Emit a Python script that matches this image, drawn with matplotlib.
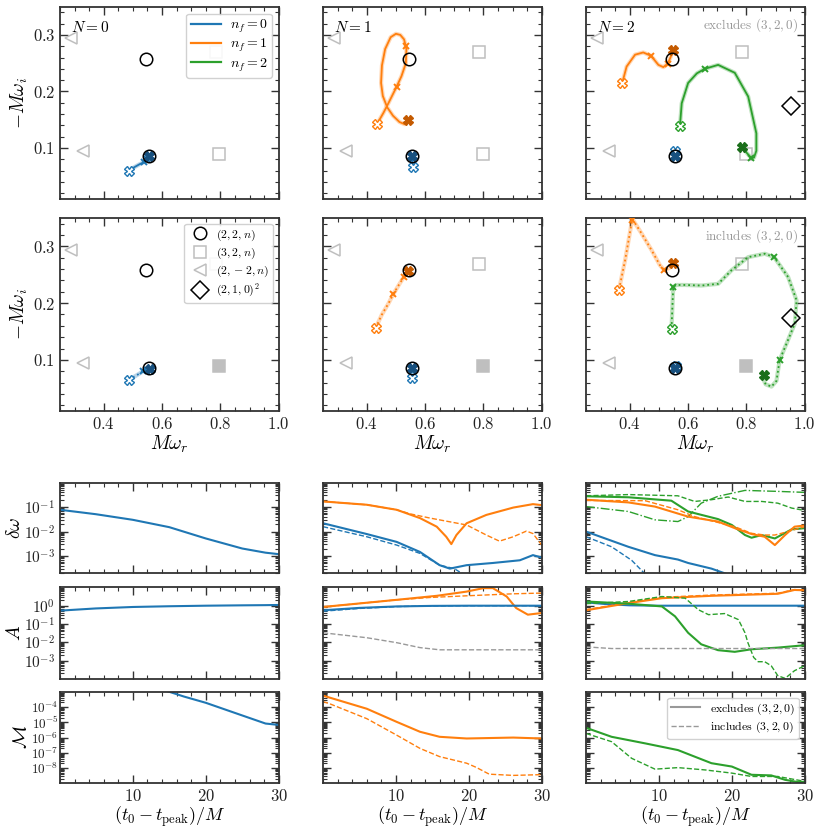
import matplotlib
matplotlib.use("Agg")
import matplotlib.pyplot as plt
from matplotlib.lines import Line2D
from matplotlib.ticker import MultipleLocator, LogLocator, NullFormatter
import numpy as np

plt.rcParams.update({
    "font.family": "serif",
    "font.serif": ["cmr10", "DejaVu Serif"],
    "mathtext.fontset": "cm",
    "axes.formatter.use_mathtext": True,
    "axes.unicode_minus": False,
})

C0, C1, C2 = "#1f77b4", "#ff7f0e", "#2ca02c"
DARK = {C0: "#17507f", C1: "#c45a00", C2: "#1b6e1b"}
SPINE = "#333333"

# ---- reference QNM frequencies (M omega_r, -M omega_i)
q22_x, q22_y = [0.556, 0.544], [0.085, 0.258]
q32_x, q32_y = [0.797, 0.785], [0.089, 0.269]
q2m2_x, q2m2_y = [0.288, 0.328], [0.294, 0.094]
q210sq_x, q210sq_y = [0.952], [0.174]

# ---- fitted-frequency trajectories (top row: excludes (3,2,0))
ex0_n0_x = [0.486, 0.505, 0.522, 0.538, 0.548, 0.556]
ex0_n0_y = [0.060, 0.066, 0.071, 0.075, 0.080, 0.085]
ex0_n0_tx, ex0_n0_ty = [0.538, 0.550], [0.075, 0.081]

ex1_n0_x = [0.557, 0.556, 0.555]
ex1_n0_y = [0.066, 0.075, 0.085]
ex1_n1_x = [0.436, 0.457, 0.474, 0.502, 0.519, 0.534, 0.536, 0.528, 0.515, 0.500,
            0.482, 0.463, 0.452, 0.449, 0.455, 0.470, 0.490, 0.512, 0.530, 0.543]
ex1_n1_y = [0.143, 0.162, 0.179, 0.208, 0.227, 0.250, 0.275, 0.292, 0.300, 0.302,
            0.296, 0.275, 0.246, 0.215, 0.192, 0.172, 0.157, 0.146, 0.142, 0.150]
ex1_n1_tx, ex1_n1_ty = [0.502, 0.534], [0.208, 0.280]

ex2_n0_x = [0.555, 0.555]
ex2_n0_y = [0.095, 0.085]
ex2_n1_x = [0.374, 0.389, 0.418, 0.446, 0.473, 0.498, 0.515, 0.530, 0.541, 0.547]
ex2_n1_y = [0.215, 0.244, 0.265, 0.269, 0.263, 0.247, 0.243, 0.249, 0.262, 0.274]
ex2_n1_tx, ex2_n1_ty = [0.473, 0.530], [0.263, 0.249]
ex2_n2_x = [0.572, 0.578, 0.600, 0.630, 0.657, 0.703, 0.760, 0.806, 0.834, 0.834,
            0.826, 0.817, 0.800, 0.786]
ex2_n2_y = [0.139, 0.179, 0.215, 0.232, 0.240, 0.247, 0.233, 0.191, 0.126, 0.095,
            0.083, 0.082, 0.092, 0.102]
ex2_n2_tx, ex2_n2_ty = [0.657, 0.817], [0.240, 0.082]

# ---- middle row: includes (3,2,0)
in0_n0_x = [0.486, 0.510, 0.535, 0.558]
in0_n0_y = [0.065, 0.072, 0.080, 0.084]
in0_n0_tx, in0_n0_ty = [0.535, 0.550], [0.080, 0.083]

in1_n0_x = [0.556, 0.556, 0.556]
in1_n0_y = [0.068, 0.077, 0.085]
in1_n1_x = [0.430, 0.452, 0.475, 0.491, 0.510, 0.527, 0.542]
in1_n1_y = [0.156, 0.180, 0.200, 0.216, 0.232, 0.246, 0.257]
in1_n1_tx, in1_n1_ty = [0.491, 0.527], [0.216, 0.246]

in2_n0_x = [0.557, 0.555]
in2_n0_y = [0.090, 0.085]
in2_n1_x = [0.363, 0.384, 0.404, 0.409, 0.440, 0.475, 0.503, 0.518, 0.535, 0.547]
in2_n1_y = [0.224, 0.276, 0.335, 0.348, 0.323, 0.293, 0.267, 0.258, 0.262, 0.270]
in2_n1_tx, in2_n1_ty = [0.409, 0.518], [0.346, 0.258]
in2_n2_x = [0.543, 0.547, 0.549, 0.560, 0.589, 0.646, 0.703, 0.749, 0.806, 0.863,
            0.895, 0.943, 0.972, 0.966, 0.937, 0.914, 0.903, 0.886, 0.866, 0.858, 0.861]
in2_n2_y = [0.155, 0.205, 0.229, 0.232, 0.232, 0.231, 0.234, 0.258, 0.281, 0.287,
            0.281, 0.246, 0.205, 0.164, 0.128, 0.100, 0.063, 0.053, 0.057, 0.066, 0.074]
in2_n2_tx, in2_n2_ty = [0.549, 0.895, 0.914], [0.229, 0.281, 0.100]

# ---- bottom panels: t0 - t_peak and log10 of quantities
# column N=0
t_c1 = [0.0, 4.9, 10.0, 15.0, 20.0, 25.0, 28.2, 30.0]
dw_c1_n0 = [-1.11, -1.29, -1.52, -1.82, -2.28, -2.69, -2.86, -2.92]
A_c1_n0 = [-0.27, -0.15, -0.07, -0.03, 0.0, 0.02, 0.03, 0.04]
tM_c1 = [12.0, 15.0, 17.0, 20.0, 25.0, 28.2, 30.0]
M_c1_n0 = [-2.6, -3.0, -3.31, -3.72, -4.55, -5.08, -5.17]

# column N=1
t_c2_dw1 = [0.0, 6.0, 10.1, 13.3, 15.6, 16.9, 17.6, 18.3, 19.7, 22.4, 26.1, 28.8, 30.0]
dw_c2_n1_ex = [-0.77, -0.905, -1.11, -1.45, -1.80, -2.21, -2.51, -2.14, -1.66, -1.32, -1.02, -0.88, -0.92]
t_c2_dw1i = [0.0, 6.0, 10.1, 12.0, 14.7, 19.7, 22.4, 24.2, 26.1, 27.9, 28.8, 30.0]
dw_c2_n1_in = [-0.77, -0.905, -1.11, -1.28, -1.45, -1.73, -2.14, -2.39, -2.21, -1.98, -2.08, -2.55]
t_c2_dw0 = [0.0, 6.0, 10.1, 13.3, 16.0, 17.4, 19.7, 23.3, 27.0, 28.8, 30.0]
dw_c2_n0_ex = [-1.66, -2.10, -2.42, -2.83, -3.37, -3.51, -3.37, -3.28, -3.17, -2.96, -3.06]
t_c2_dw0i = [0.0, 6.0, 10.1, 13.3, 16.0, 18.0, 19.2, 22.0]
dw_c2_n0_in = [-1.80, -2.21, -2.55, -2.89, -3.37, -3.51, -3.73, -4.1]

t_c2_A1 = [0.0, 10.1, 15.6, 19.7, 22.0, 23.3, 25.2, 26.5, 28.1, 30.0]
A_c2_n1_ex = [-0.07, 0.32, 0.54, 0.77, 0.96, 0.96, 0.50, -0.13, -0.49, -0.40]
t_c2_A1i = [0.0, 10.1, 14.7, 19.7, 26.1, 30.0]
A_c2_n1_in = [-0.07, 0.32, 0.45, 0.54, 0.65, 0.69]
t_c2_A0 = [0.0, 5.0, 10.1, 15.0, 20.0, 25.0, 30.0]
A_c2_n0_ex = [-0.25, -0.12, -0.04, -0.01, 0.0, 0.0, 0.0]
A_c2_n0_in = [-0.30, -0.15, -0.05, -0.01, 0.0, 0.0, 0.0]
t_c2_A32 = [0.0, 6.0, 10.1, 13.3, 16.0, 20.0, 25.0, 30.0]
A_c2_320 = [-1.48, -1.75, -2.02, -2.29, -2.41, -2.41, -2.41, -2.41]

t_c2_M = [0.0, 6.0, 10.1, 13.3, 16.0, 19.7, 26.1, 30.0]
M_c2_n1_ex = [-3.25, -4.11, -4.97, -5.62, -5.95, -6.06, -6.0, -6.06]
t_c2_Mi = [0.0, 1.0, 6.0, 10.1, 13.3, 16.0, 19.7, 21.0, 22.8, 26.1, 30.0]
M_c2_n1_in = [-3.64, -3.80, -4.76, -5.84, -6.71, -7.25, -7.68, -7.95, -8.40, -8.48, -8.43]

# column N=2
t_c3_dw2 = [0.0, 5.8, 11.7, 14.0, 18.1, 20.0, 21.8, 22.7, 24.1, 25.9, 28.2, 30.0]
dw_c3_n2_ex = [-0.56, -0.60, -0.74, -1.18, -1.49, -1.73, -2.14, -2.25, -2.14, -2.28, -1.91, -1.86]
t_c3_dw1 = [0.0, 5.8, 9.45, 14.0, 18.1, 20.4, 22.7, 24.5, 25.9, 27.3, 28.6, 30.0]
dw_c3_n1_ex = [-0.70, -0.81, -0.98, -1.39, -1.59, -1.86, -2.10, -2.21, -2.55, -2.14, -1.80, -1.75]
t_c3_dw1i = [0.0, 8.1, 12.6, 14.9, 20.4, 22.7, 24.5, 25.9, 27.3, 30.0]
dw_c3_n1_in = [-0.73, -0.74, -1.11, -1.39, -1.80, -2.07, -2.14, -2.14, -2.03, -1.80]
t_c3_dw2i = [0.0, 5.8, 12.6, 14.9, 17.2, 19.5, 21.8, 24.1, 26.3, 28.2, 30.0]
dw_c3_n2_in = [-0.54, -0.49, -0.54, -0.77, -0.70, -0.59, -0.77, -0.77, -0.84, -1.04, -1.14]
t_c3_dw2d = [0.0, 5.8, 9.45, 12.6, 14.0, 15.8, 18.1, 21.8, 26.3, 30.0]
dw_c3_n2_dd = [-0.98, -1.18, -1.52, -1.59, -1.39, -0.84, -0.56, -0.32, -0.36, -0.40]
t_c3_dw0 = [0.0, 5.8, 9.45, 12.6, 14.0, 17.2, 19.3]
dw_c3_n0_ex = [-2.0, -2.62, -2.96, -3.14, -3.28, -3.51, -3.73]
t_c3_dw0i = [0.0, 3.5, 6.25, 8.1, 10.0]
dw_c3_n0_in = [-2.21, -2.62, -3.17, -3.73, -4.2]

t_c3_A = [0.0, 5.8, 10.4, 17.2, 26.3, 28.6, 30.0]
A_c3_n1_ex = [-0.25, 0.14, 0.41, 0.54, 0.65, 0.86, 0.84]
A_c3_n1_in = [-0.22, 0.18, 0.46, 0.58, 0.68, 0.88, 0.86]
t_c3_A0 = [0.0, 3.0, 6.0, 10.0, 20.0, 30.0]
A_c3_n0_ex = [0.18, 0.08, 0.02, 0.0, 0.0, 0.0]
t_c3_A2 = [0.0, 5.8, 10.4, 12.2, 14.0, 15.8, 18.1, 20.4, 22.7, 26.3, 30.0]
A_c3_n2_ex = [0.23, 0.11, -0.04, -0.58, -1.48, -2.11, -2.43, -2.52, -2.38, -2.29, -2.16]
t_c3_A2i = [0.0, 5.8, 10.4, 13.6, 15.4, 16.8, 19.0, 20.9, 21.8, 22.2, 23.0, 23.6,
            24.5, 25.4, 26.3, 27.3, 28.6, 30.0]
A_c3_n2_in = [0.11, 0.23, 0.50, 0.41, -0.22, -0.49, -0.43, -0.76, -1.48, -2.02, -2.83, -3.06,
              -3.06, -3.28, -3.82, -3.97, -3.55, -3.28]
t_c3_A32 = [0.0, 3.5, 10.0, 20.0, 30.0]
A_c3_320 = [-2.25, -2.34, -2.34, -2.34, -2.34]

t_c3_M = [0.0, 3.5, 8.1, 12.6, 14.9, 17.2, 20.0, 22.7, 25.4, 27.3, 29.1, 30.0]
M_c3_n2_ex = [-5.36, -5.95, -6.38, -6.82, -7.25, -7.68, -7.90, -8.44, -8.48, -8.77, -8.92, -8.90]
t_c3_Mi = [0.0, 3.5, 6.25, 9.45, 12.6, 16.3, 20.0, 22.7, 26.3, 30.0]
M_c3_n2_in = [-5.73, -6.27, -7.36, -8.07, -7.97, -8.12, -8.33, -8.55, -8.55, -8.87]


def p10(v):
    return 10.0 ** np.asarray(v)


def style_axes(ax, labelsize=12):
    for s in ax.spines.values():
        s.set_color(SPINE)
        s.set_linewidth(1.3)
    ax.tick_params(which="both", direction="in", top=True, right=True, colors=SPINE,
                   labelcolor="#222222", labelsize=labelsize)
    ax.tick_params(which="major", length=6, width=1.0)
    ax.tick_params(which="minor", length=3, width=0.8)


def trajectory(ax, x, y, color, ls, tx=None, ty=None):
    ax.plot(x, y, color=color, lw=3.0, alpha=0.3, solid_capstyle="round", zorder=3)
    ax.plot(x, y, color=color, lw=1.3, ls=ls, zorder=4)
    if tx is not None:
        ax.plot(tx, ty, ls="none", marker="x", ms=5, mew=1.4, color=color, zorder=5)
    ax.plot(x[0], y[0], ls="none", marker="X", ms=6.5, mfc="white", mec=color, mew=1.0, zorder=6)
    ax.plot(x[-1], y[-1], ls="none", marker="X", ms=6.5, mfc=DARK[color], mec=DARK[color], zorder=6)


def references(ax, filled32, show210):
    ax.plot(q2m2_x, q2m2_y, ls="none", marker="<", ms=9, mfc="none", mec="0.75", mew=1.1, zorder=2)
    ax.plot(q32_x[1], q32_y[1], ls="none", marker="s", ms=9, mfc="none", mec="0.75", mew=1.1, zorder=2)
    ax.plot(q32_x[0], q32_y[0], ls="none", marker="s", ms=9,
            mfc="0.75" if filled32 else "none", mec="0.75", mew=1.1, zorder=2)
    ax.plot(q22_x, q22_y, ls="none", marker="o", ms=9, mfc="none", mec="black", mew=1.1, zorder=7)
    if show210:
        ax.plot(q210sq_x, q210sq_y, ls="none", marker="D", ms=9, mfc="none", mec="black", mew=1.1, zorder=7)


fig = plt.figure(figsize=(8.22, 8.32), dpi=100)
lefts = [0.073, 0.393, 0.713]
w = 0.266
scat_rows = [(0.761, 0.231), (0.506, 0.232)]
line_rows = [(0.311, 0.109), (0.184, 0.110), (0.0585, 0.110)]

sc = [[fig.add_axes([l, b, w, h]) for l in lefts] for (b, h) in scat_rows]
ln = [[fig.add_axes([l, b, w, h]) for l in lefts] for (b, h) in line_rows]

# --- scatter panels
for r in range(2):
    for c in range(3):
        ax = sc[r][c]
        style_axes(ax)
        ax.set_xlim(0.25, 1.0)
        ax.set_ylim(0.01, 0.35)
        ax.xaxis.set_major_locator(MultipleLocator(0.2))
        ax.xaxis.set_minor_locator(MultipleLocator(0.05))
        ax.yaxis.set_major_locator(MultipleLocator(0.1))
        ax.yaxis.set_minor_locator(MultipleLocator(0.02))
        references(ax, filled32=(r == 1), show210=(c == 2))
        if r == 0:
            ax.tick_params(labelbottom=False)
        else:
            ax.set_xlabel(r"$M\omega_r$", fontsize=14, labelpad=1)
        if c == 0:
            ax.set_ylabel(r"$-M\omega_i$", fontsize=14, labelpad=2)
        else:
            ax.tick_params(labelleft=False)
        if r == 0:
            ax.text(0.05, 0.93, rf"$N={c}$", transform=ax.transAxes, fontsize=11,
                    va="top", ha="left")

trajectory(sc[0][0], ex0_n0_x, ex0_n0_y, C0, "-", ex0_n0_tx, ex0_n0_ty)
trajectory(sc[0][1], ex1_n0_x, ex1_n0_y, C0, "-")
trajectory(sc[0][1], ex1_n1_x, ex1_n1_y, C1, "-", ex1_n1_tx, ex1_n1_ty)
trajectory(sc[0][2], ex2_n0_x, ex2_n0_y, C0, "-")
trajectory(sc[0][2], ex2_n1_x, ex2_n1_y, C1, "-", ex2_n1_tx, ex2_n1_ty)
trajectory(sc[0][2], ex2_n2_x, ex2_n2_y, C2, "-", ex2_n2_tx, ex2_n2_ty)

trajectory(sc[1][0], in0_n0_x, in0_n0_y, C0, ":", in0_n0_tx, in0_n0_ty)
trajectory(sc[1][1], in1_n0_x, in1_n0_y, C0, ":")
trajectory(sc[1][1], in1_n1_x, in1_n1_y, C1, ":", in1_n1_tx, in1_n1_ty)
trajectory(sc[1][2], in2_n0_x, in2_n0_y, C0, ":")
trajectory(sc[1][2], in2_n1_x, in2_n1_y, C1, ":", in2_n1_tx, in2_n1_ty)
trajectory(sc[1][2], in2_n2_x, in2_n2_y, C2, ":", in2_n2_tx, in2_n2_ty)

sc[0][2].text(0.97, 0.95, r"excludes $(3,2,0)$", transform=sc[0][2].transAxes,
              fontsize=9.5, color="0.6", ha="right", va="top")
sc[1][2].text(0.97, 0.95, r"includes $(3,2,0)$", transform=sc[1][2].transAxes,
              fontsize=9.5, color="0.6", ha="right", va="top")

nf_handles = [Line2D([], [], color=col, lw=1.6) for col in (C0, C1, C2)]
sc[0][0].legend(nf_handles, [r"$n_f=0$", r"$n_f=1$", r"$n_f=2$"], loc="upper right",
                fontsize=10, handlelength=2.2, borderpad=0.3, labelspacing=0.15,
                handletextpad=0.6, framealpha=0.9, edgecolor="0.8")
ref_handles = [
    Line2D([], [], ls="none", marker="o", ms=9, mfc="none", mec="black", mew=1.1),
    Line2D([], [], ls="none", marker="s", ms=9, mfc="none", mec="0.75", mew=1.1),
    Line2D([], [], ls="none", marker="<", ms=9, mfc="none", mec="0.75", mew=1.1),
    Line2D([], [], ls="none", marker="D", ms=9, mfc="none", mec="black", mew=1.1),
]
sc[1][0].legend(ref_handles, [r"$(2,2,n)$", r"$(3,2,n)$", r"$(2,-2,n)$", r"$(2,1,0)^2$"],
                loc="upper right", fontsize=8.5, borderpad=0.3, labelspacing=0.25,
                handletextpad=0.4, framealpha=0.9, edgecolor="0.8")

# --- time-series panels
ylims = [(2e-4, 1.0), (1e-4, 10.0), (1e-9, 1e-3)]
yticks = [[1e-3, 1e-2, 1e-1], [1e-3, 1e-2, 1e-1, 1.0], [1e-8, 1e-7, 1e-6, 1e-5, 1e-4]]
ylabels = [r"$\delta\omega$", r"$A$", r"$\mathcal{M}$"]
for r in range(3):
    for c in range(3):
        ax = ln[r][c]
        style_axes(ax, labelsize=11)
        ax.set_yscale("log")
        ax.set_xlim(0, 30)
        ax.set_ylim(*ylims[r])
        ax.set_yticks(yticks[r])
        ax.yaxis.set_minor_locator(LogLocator(base=10, subs=np.arange(2, 10), numticks=50))
        ax.yaxis.set_minor_formatter(NullFormatter())
        ax.set_xticks([10, 20, 30])
        ax.xaxis.set_minor_locator(MultipleLocator(2))
        ax.tick_params(axis="x", labelsize=12)
        if r < 2:
            ax.tick_params(labelbottom=False)
        else:
            ax.set_xlabel(r"$(t_0-t_{\rm peak})/M$", fontsize=13, labelpad=0)
        if c == 0:
            ax.set_ylabel(ylabels[r], fontsize=14, labelpad=0)
        else:
            ax.tick_params(labelleft=False)
ln[2][0].tick_params(axis="y", pad=1, labelsize=9.5)

lw = 1.5
# N = 0
ln[0][0].plot(t_c1, p10(dw_c1_n0), color=C0, lw=lw)
ln[1][0].plot(t_c1, p10(A_c1_n0), color=C0, lw=lw)
ln[2][0].plot(tM_c1, p10(M_c1_n0), color=C0, lw=lw)

# N = 1
ax = ln[0][1]
ax.plot(t_c2_dw1, p10(dw_c2_n1_ex), color=C1, lw=lw)
ax.plot(t_c2_dw1i, p10(dw_c2_n1_in), color=C1, lw=1.0, ls="--")
ax.plot(t_c2_dw0, p10(dw_c2_n0_ex), color=C0, lw=lw)
ax.plot(t_c2_dw0i, p10(dw_c2_n0_in), color=C0, lw=1.0, ls="--")
ax = ln[1][1]
ax.plot(t_c2_A1, p10(A_c2_n1_ex), color=C1, lw=lw)
ax.plot(t_c2_A1i, p10(A_c2_n1_in), color=C1, lw=1.0, ls="--")
ax.plot(t_c2_A0, p10(A_c2_n0_ex), color=C0, lw=lw)
ax.plot(t_c2_A0, p10(A_c2_n0_in), color=C0, lw=1.0, ls="--")
ax.plot(t_c2_A32, p10(A_c2_320), color="0.6", lw=1.0, ls="--")
ax = ln[2][1]
ax.plot(t_c2_M, p10(M_c2_n1_ex), color=C1, lw=lw)
ax.plot(t_c2_Mi, p10(M_c2_n1_in), color=C1, lw=1.0, ls="--")

# N = 2
ax = ln[0][2]
ax.plot(t_c3_dw2, p10(dw_c3_n2_ex), color=C2, lw=lw)
ax.plot(t_c3_dw2i, p10(dw_c3_n2_in), color=C2, lw=1.0, ls="--")
ax.plot(t_c3_dw2d, p10(dw_c3_n2_dd), color=C2, lw=1.0, ls="-.")
ax.plot(t_c3_dw1, p10(dw_c3_n1_ex), color=C1, lw=lw)
ax.plot(t_c3_dw1i, p10(dw_c3_n1_in), color=C1, lw=1.0, ls="--")
ax.plot(t_c3_dw0, p10(dw_c3_n0_ex), color=C0, lw=lw)
ax.plot(t_c3_dw0i, p10(dw_c3_n0_in), color=C0, lw=1.0, ls="--")
ax = ln[1][2]
ax.plot(t_c3_A0, p10(A_c3_n0_ex), color=C0, lw=lw)
ax.plot(t_c3_A, p10(A_c3_n1_ex), color=C1, lw=lw)
ax.plot(t_c3_A, p10(A_c3_n1_in), color=C1, lw=1.0, ls="--")
ax.plot(t_c3_A2, p10(A_c3_n2_ex), color=C2, lw=lw)
ax.plot(t_c3_A2i, p10(A_c3_n2_in), color=C2, lw=1.0, ls="--")
ax.plot(t_c3_A32, p10(A_c3_320), color="0.6", lw=1.0, ls="--")
ax = ln[2][2]
ax.plot(t_c3_M, p10(M_c3_n2_ex), color=C2, lw=lw)
ax.plot(t_c3_Mi, p10(M_c3_n2_in), color=C2, lw=1.0, ls="--")
ex_handles = [Line2D([], [], color="0.6", lw=1.5), Line2D([], [], color="0.6", lw=1.0, ls="--")]
ax.legend(ex_handles, [r"excludes $(3,2,0)$", r"includes $(3,2,0)$"], loc="upper right",
          fontsize=8.5, handlelength=2.5, borderpad=0.3, labelspacing=0.3,
          framealpha=0.9, edgecolor="0.8")

fig.savefig("out.png", dpi=100)
